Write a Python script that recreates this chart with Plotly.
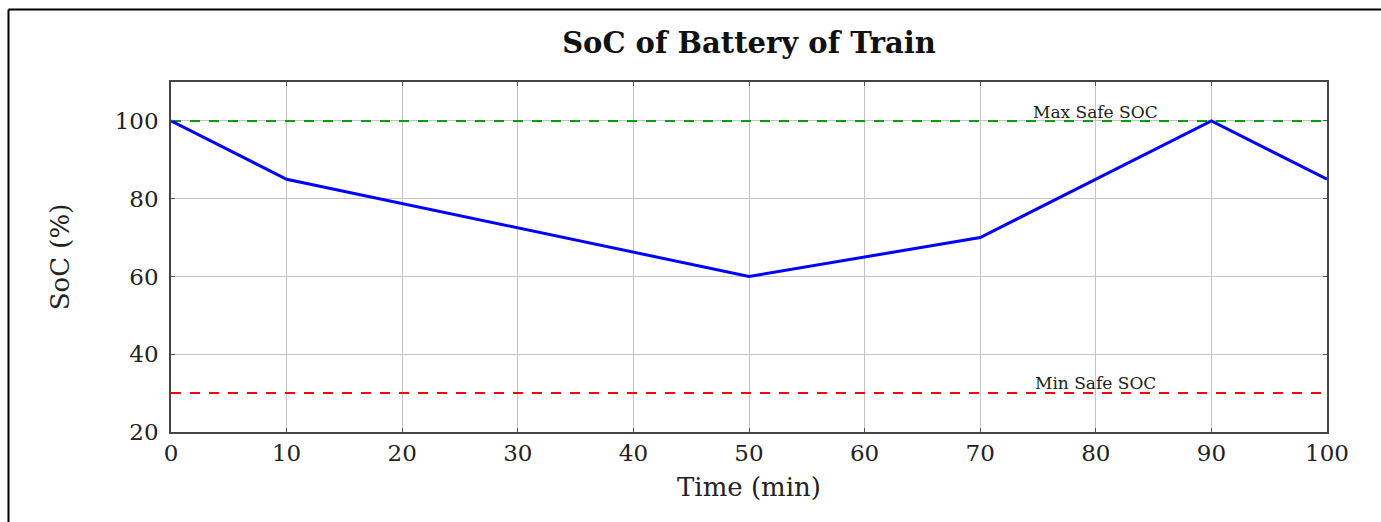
import plotly.graph_objects as go

# State of charge over the trip
time_min = [0, 10, 50, 70, 90, 100]
soc_pct = [100, 85, 60, 70, 100, 85]

# Safety limits
max_safe = 100
min_safe = 30
limit_x = [0, 100]

x_ticks = [0, 10, 20, 30, 40, 50, 60, 70, 80, 90, 100]
y_ticks = [20, 40, 60, 80, 100]

SERIF = "DejaVu Serif"

fig = go.Figure()

fig.add_trace(go.Scatter(
    x=limit_x, y=[max_safe, max_safe], mode="lines",
    line=dict(color="#00a000", width=2, dash="10px,9px"), showlegend=False,
))
fig.add_trace(go.Scatter(
    x=limit_x, y=[min_safe, min_safe], mode="lines",
    line=dict(color="#ff0000", width=2, dash="10px,9px"), showlegend=False,
))
fig.add_trace(go.Scatter(
    x=time_min, y=soc_pct, mode="lines",
    line=dict(color="#0000ff", width=3), showlegend=False,
))

fig.add_annotation(x=80, y=max_safe, text="Max Safe SOC", showarrow=False,
                   yanchor="bottom", yshift=-3, font=dict(family=SERIF, size=17, color="#222"))
fig.add_annotation(x=80, y=min_safe, text="Min Safe SOC", showarrow=False,
                   yanchor="bottom", yshift=-2, font=dict(family=SERIF, size=17, color="#222"))

# Outer frame (top and left edges)
fig.add_shape(type="line", xref="paper", yref="paper",
              x0=(8.5 - 171) / 1156, x1=(1381 - 171) / 1156,
              y0=(432 - 9.5) / 350, y1=(432 - 9.5) / 350,
              line=dict(color="black", width=2))
fig.add_shape(type="line", xref="paper", yref="paper",
              x0=(8.5 - 171) / 1156, x1=(8.5 - 171) / 1156,
              y0=(432 - 9.5) / 350, y1=(432 - 522) / 350,
              line=dict(color="black", width=2))

axis_common = dict(
    showgrid=True, gridcolor="#c4c4c4", gridwidth=1,
    showline=True, linecolor="#444", linewidth=1.5, mirror="allticks",
    ticks="inside", ticklen=4, tickcolor="#555",
    tickfont=dict(family=SERIF, size=23, color="#222"),
    zeroline=False,
)

fig.update_xaxes(range=[0, 100], tickvals=x_ticks,
                 title=dict(text="Time (min)", font=dict(family=SERIF, size=26, color="#222"), standoff=12),
                 **axis_common)
fig.update_yaxes(range=[20, 110], tickvals=y_ticks, ticklabelstandoff=6,
                 title=dict(text="SoC (%)", font=dict(family=SERIF, size=26, color="#222"), standoff=38),
                 **axis_common)

fig.update_layout(
    width=1381, height=522,
    margin=dict(l=171, r=54, t=82, b=90),
    paper_bgcolor="white", plot_bgcolor="white",
    title=dict(text="<b>SoC of Battery of Train</b>", x=(171 + 578) / 1381, xanchor="center",
               y=1 - 43 / 522, yanchor="middle",
               font=dict(family=SERIF, size=29, color="#111")),
)

fig.write_html("out.html")
